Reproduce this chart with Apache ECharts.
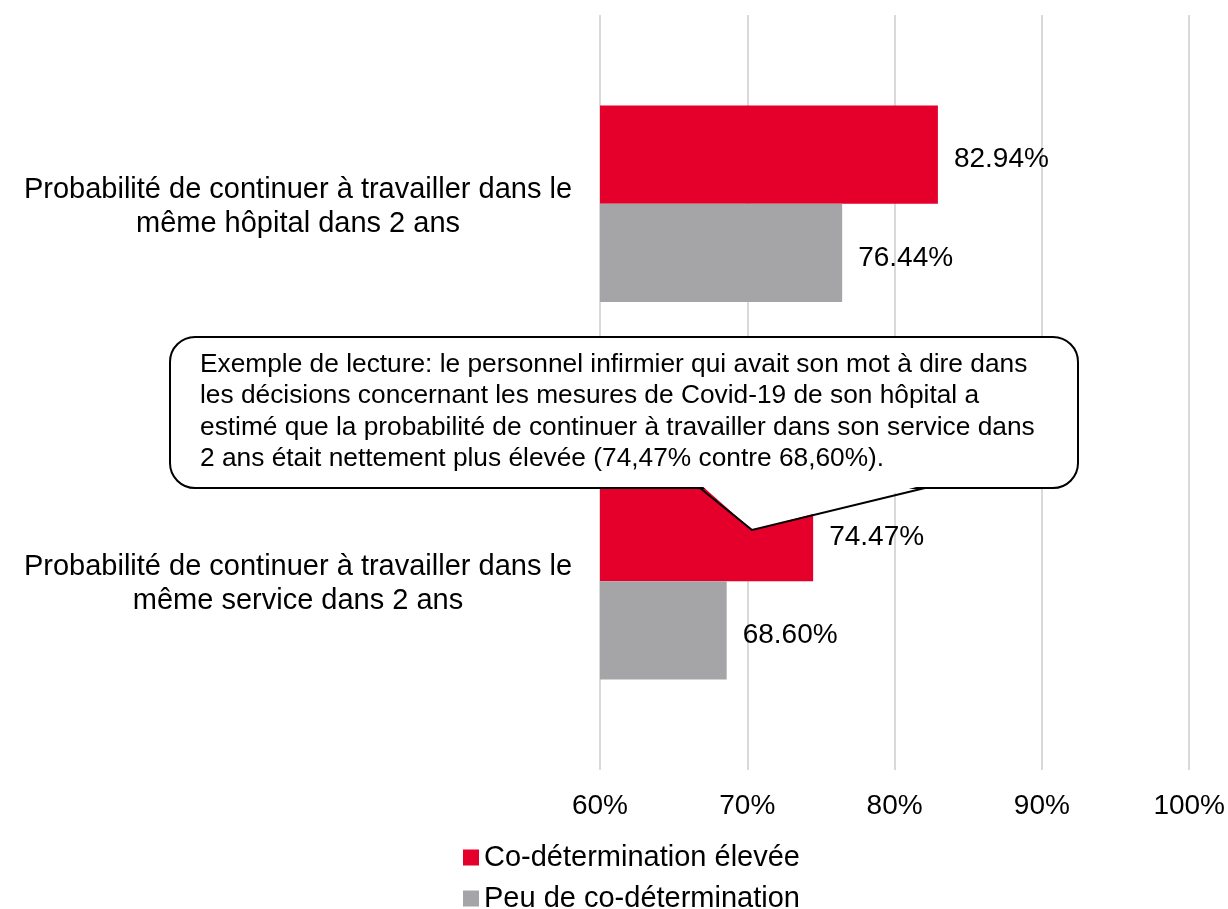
<!DOCTYPE html>
<html lang="fr">
<head>
<meta charset="utf-8">
<title>Co-détermination</title>
<script src="https://cdn.jsdelivr.net/npm/echarts@6/dist/echarts.min.js"></script>
<style>
  html, body { margin: 0; padding: 0; background: #fff; }
  #chart { width: 1228px; height: 909px; }
</style>
</head>
<body>
<div id="chart"></div>
<script>
  // data
  var categories = [
    'Probabilité de continuer à travailler dans le\nmême hôpital dans 2 ans',
    'Probabilité de continuer à travailler dans le\nmême service dans 2 ans'
  ];
  var seriesNames = ['Co-détermination élevée', 'Peu de co-détermination'];
  var highValues = [82.94, 74.47];
  var lowValues = [76.44, 68.60];
  var xTicks = [60, 70, 80, 90, 100];

  var note = 'Exemple de lecture: le personnel infirmier qui avait son mot à dire dans\n' +
    'les décisions concernant les mesures de Covid-19 de son hôpital a\n' +
    'estimé que la probabilité de continuer à travailler dans son service dans\n' +
    '2 ans était nettement plus élevée (74,47% contre 68,60%).';

  var font = '"Liberation Sans", Arial, sans-serif';
  var chart = echarts.init(document.getElementById('chart'));

  var labelStyle = {
    show: true,
    position: 'right',
    distance: 16,
    offset: [0, 5],
    color: '#000',
    fontSize: 28,
    fontFamily: font,
    formatter: function (p) { return p.value.toFixed(2) + '%'; }
  };

  chart.setOption({
    animation: false,
    textStyle: { fontFamily: font },
    grid: { left: 600, right: 38, top: 15, bottom: 139, containLabel: false },
    legend: {
      orient: 'vertical',
      left: 458,
      top: 838,
      height: 90,
      itemWidth: 16,
      itemHeight: 16,
      itemGap: 12,
      icon: 'rect',
      data: seriesNames,
      textStyle: { fontSize: 29, color: '#000', fontFamily: font }
    },
    xAxis: {
      type: 'value',
      min: xTicks[0],
      max: xTicks[xTicks.length - 1],
      interval: 10,
      axisLine: { show: false },
      axisTick: { show: false },
      splitLine: { lineStyle: { color: '#d9d9d9', width: 2 } },
      axisLabel: {
        margin: 22,
        fontSize: 28,
        color: '#000',
        fontFamily: font,
        formatter: '{value}%'
      }
    },
    yAxis: {
      type: 'category',
      inverse: true,
      data: categories,
      axisLine: { show: false },
      axisTick: { show: false },
      axisLabel: {
        margin: 24,
        padding: [6, 0, 0, 0],
        formatter: function (v) { return '{a|' + v.split('\n').join('}\n{a|') + '}'; },
        rich: {
          a: { width: 556, align: 'center', fontSize: 29, lineHeight: 34, color: '#000', fontFamily: font }
        }
      }
    },
    series: [
      {
        name: seriesNames[0],
        type: 'bar',
        data: highValues,
        barGap: '0%',
        barCategoryGap: '48%',
        itemStyle: { color: '#e4002b' },
        label: labelStyle
      },
      {
        name: seriesNames[1],
        type: 'bar',
        data: lowValues,
        itemStyle: { color: '#a5a5a8' },
        label: labelStyle
      }
    ],
    graphic: [
      {
        type: 'rect',
        z: 100,
        shape: { x: 170, y: 337, width: 908, height: 151, r: 25 },
        style: { fill: '#fff', stroke: '#000', lineWidth: 2 }
      },
      {
        type: 'polygon',
        z: 101,
        shape: { points: [[701, 485], [752, 530], [924, 485]] },
        style: { fill: '#fff' }
      },
      {
        type: 'polyline',
        z: 102,
        shape: { points: [[700, 488], [752, 530], [925, 488]] },
        style: { stroke: '#000', lineWidth: 2, fill: null }
      },
      {
        type: 'text',
        z: 103,
        left: 200,
        top: 349,
        style: {
          text: note,
          fontSize: 26.3,
          lineHeight: 31.3,
          fill: '#000',
          fontFamily: font
        }
      }
    ]
  });
</script>
</body>
</html>
